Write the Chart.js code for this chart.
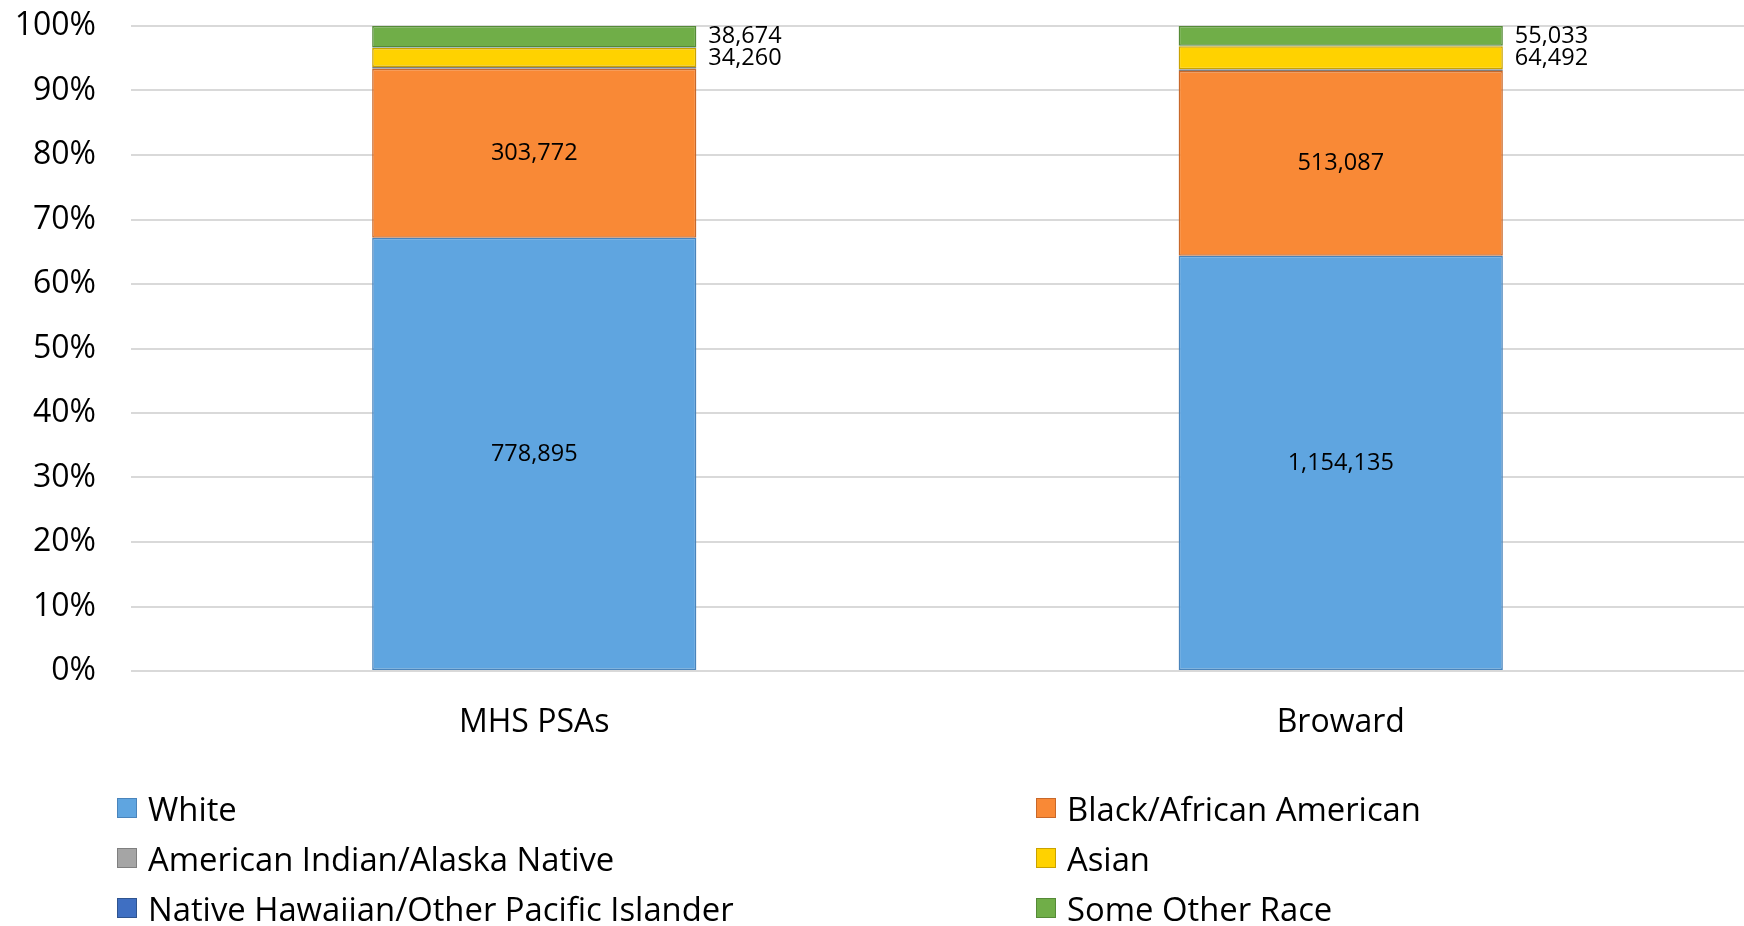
<!DOCTYPE html>
<html>
<head>
<meta charset="utf-8">
<script src="https://cdn.jsdelivr.net/npm/chart.js@4.4.1/dist/chart.umd.min.js"></script>
<style>
  html, body { margin: 0; padding: 0; background: #fff; }
  #wrap { position: relative; width: 1744px; height: 926px; }
  #legend {
    position: absolute; left: 117px; top: 783px;
    display: grid; grid-template-columns: 919px 600px; grid-auto-rows: 50px;
    font-family: "Open Sans", sans-serif; font-size: 32.8px; color: #000;
  }
  .item { display: flex; align-items: center; white-space: nowrap; }
  .box { width: 20px; height: 20px; margin-right: 11px; box-sizing: border-box; border: 1.5px solid; }
</style>
</head>
<body>
<div id="wrap">
  <canvas id="chart"></canvas>
  <div id="legend"></div>
</div>
<script>
const categories = ['MHS PSAs', 'Broward'];
const seriesNames = ['White', 'Black/African American', 'American Indian/Alaska Native', 'Asian', 'Native Hawaiian/Other Pacific Islander', 'Some Other Race'];
const white = [778895, 1154135];
const black = [303772, 513087];
const amIndian = [3000, 4500];
const asian = [34260, 64492];
const pacific = [700, 1000];
const otherRace = [38674, 55033];
const yTicks = [0, 10, 20, 30, 40, 50, 60, 70, 80, 90, 100];

const fills = ['#5fa5e0', '#f98936', '#a5a5a5', '#ffd200', '#3f6fc2', '#70ae48'];
const borders = ['#4a84bb', '#c8682a', '#7f7f7f', '#c9a200', '#2f548f', '#558a37'];
// where each series' value label goes: 'in' = centred, 'out' = right of the bar
const labelMode = ['in', 'in', null, 'out', null, 'out'];

const counts = [white, black, amIndian, asian, pacific, otherRace];
const totals = categories.map((_, i) => counts.reduce((s, arr) => s + arr[i], 0));

const FONT = '"Open Sans", sans-serif';

const valueLabels = {
  id: 'valueLabels',
  afterDatasetsDraw(chart) {
    const ctx = chart.ctx;
    ctx.save();
    ctx.font = '23.5px ' + FONT;
    ctx.fillStyle = '#000';
    ctx.textBaseline = 'middle';
    categories.forEach((_, i) => {
      let lastY = -Infinity;
      for (let d = counts.length - 1; d >= 0; d--) {
        const mode = labelMode[d];
        if (!mode) continue;
        const el = chart.getDatasetMeta(d).data[i];
        const text = counts[d][i].toLocaleString('en-US');
        let y = (el.y + el.base) / 2;
        if (mode === 'in') {
          ctx.textAlign = 'center';
          ctx.fillText(text, el.x, y);
        } else {
          if (y < lastY + 22) y = lastY + 22;
          lastY = y;
          ctx.textAlign = 'left';
          ctx.fillText(text, el.x + el.width / 2 + 12, y);
        }
      }
    });
    ctx.restore();
  }
};

const chart = new Chart(document.getElementById('chart'), {
  type: 'bar',
  data: {
    labels: categories,
    datasets: counts.map((arr, d) => ({
      label: seriesNames[d],
      data: arr.map((v, i) => v / totals[i] * 100),
      backgroundColor: fills[d],
      borderColor: borders[d],
      borderWidth: 1.5,
      borderSkipped: false,
      categoryPercentage: 0.402,
      barPercentage: 1
    }))
  },
  options: {
    responsive: true,
    maintainAspectRatio: false,
    animation: false,
    layout: { padding: { top: 26, right: 0, bottom: 190, left: 0 } },
    plugins: {
      legend: { display: false },
      tooltip: { enabled: false }
    },
    scales: {
      x: {
        stacked: true,
        afterFit: (scale) => { scale.height = 65; },
        grid: { display: false },
        border: { display: false },
        ticks: { color: '#000', padding: 25, font: { family: FONT, size: 32 } }
      },
      y: {
        stacked: true,
        min: 0,
        max: 100,
        afterFit: (scale) => {
          scale.width = 131;
          scale.paddingTop = 0;
          scale.paddingBottom = 0;
        },
        afterBuildTicks: (scale) => { scale.ticks = yTicks.map(v => ({ value: v })); },
        grid: { color: '#d9d9d9', lineWidth: 2, drawTicks: false },
        border: { display: false },
        ticks: {
          color: '#000',
          padding: 35,
          font: { family: FONT, size: 32 },
          callback: (v) => v + '%'
        }
      }
    }
  },
  plugins: [valueLabels]
});

// two-column legend, row by row in series order
const legendEl = document.getElementById('legend');
chart.data.datasets.forEach((ds) => {
  const item = document.createElement('div');
  item.className = 'item';
  const box = document.createElement('span');
  box.className = 'box';
  box.style.background = ds.backgroundColor;
  box.style.borderColor = ds.borderColor;
  item.appendChild(box);
  item.appendChild(document.createTextNode(ds.label));
  legendEl.appendChild(item);
});
</script>
</body>
</html>
